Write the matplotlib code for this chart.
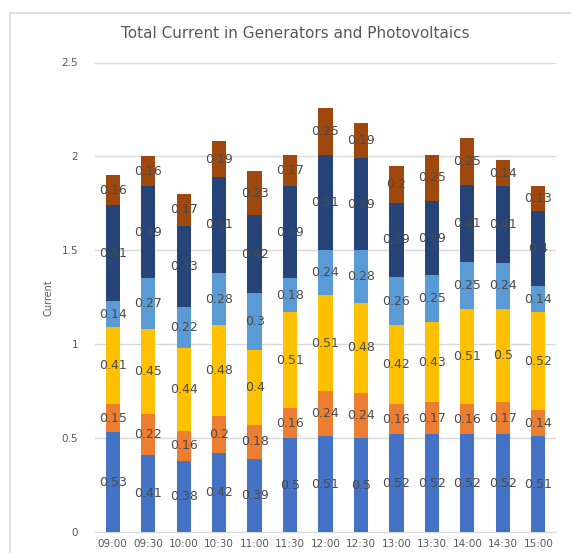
import matplotlib.pyplot as plt
import numpy as np
from matplotlib.lines import Line2D


times = ["09:00", "09:30", "10:00", "10:30", "11:00", "11:30", "12:00",
         "12:30", "13:00", "13:30", "14:00", "14:30", "15:00"]

s1 = [0.53, 0.41, 0.38, 0.42, 0.39, 0.5, 0.51, 0.5, 0.52, 0.52, 0.52, 0.52, 0.51]
s2 = [0.15, 0.22, 0.16, 0.2, 0.18, 0.16, 0.24, 0.24, 0.16, 0.17, 0.16, 0.17, 0.14]
s3 = [0.41, 0.45, 0.44, 0.48, 0.4, 0.51, 0.51, 0.48, 0.42, 0.43, 0.51, 0.5, 0.52]
s4 = [0.14, 0.27, 0.22, 0.28, 0.3, 0.18, 0.24, 0.28, 0.26, 0.25, 0.25, 0.24, 0.14]
s5 = [0.51, 0.49, 0.43, 0.51, 0.42, 0.49, 0.51, 0.49, 0.39, 0.39, 0.41, 0.41, 0.4]
s6 = [0.16, 0.16, 0.17, 0.19, 0.23, 0.17, 0.25, 0.19, 0.2, 0.25, 0.25, 0.14, 0.13]

series = [s1, s2, s3, s4, s5, s6]
colors = ["#4472C4", "#ED7D31", "#FFC000", "#5B9BD5", "#264478", "#9E480E"]

text_color = "#595959"
grid_color = "#D9D9D9"

fig = plt.figure(figsize=(5.71, 5.53), dpi=100)
ax = fig.add_axes([95/571, 1 - 532/553, 461/571, 469.5/553])

x = np.arange(len(times))
bottom = np.zeros(len(times))
for vals, c in zip(series, colors):
    vals = np.array(vals)
    ax.bar(x, vals, width=0.4, bottom=bottom, color=c, zorder=3)
    for xi, b, v in zip(x, bottom, vals):
        ax.text(xi, b + v/2, f"{v:g}", ha='center', va='center',
                fontsize=9, color="#4a4a4a", zorder=5)
    bottom += vals

ax.set_xlim(-0.5, len(times) - 0.5)
ax.set_ylim(0, 2.5)
ax.set_yticks([0, 0.5, 1, 1.5, 2, 2.5])
ax.set_yticklabels(["0", "0.5", "1", "1.5", "2", "2.5"])
ax.set_xticks(x)
ax.set_xticklabels(times)
ax.tick_params(axis='both', length=0, colors=text_color, labelsize=7.5)
ax.tick_params(axis='y', pad=12)
ax.tick_params(axis='x', pad=5)
ax.grid(axis='y', color=grid_color, linewidth=1, zorder=0)
for sp in ['top', 'right', 'left']:
    ax.spines[sp].set_visible(False)
ax.spines['bottom'].set_color(grid_color)

ax.set_ylabel("Current", fontsize=7, color=text_color, labelpad=6)

fig.text(295/571, 1 - 33/553, "Total Current in Generators and Photovoltaics",
         ha='center', va='center', fontsize=11, color=text_color)

# chart frame (left and top edges visible)
fig.add_artist(Line2D([10/571, 10/571], [0, 1 - 13/553], color=grid_color, lw=1.2))
fig.add_artist(Line2D([10/571, 1], [1 - 13/553, 1 - 13/553], color=grid_color, lw=1.2))

plt.savefig('out.png', dpi=100)
